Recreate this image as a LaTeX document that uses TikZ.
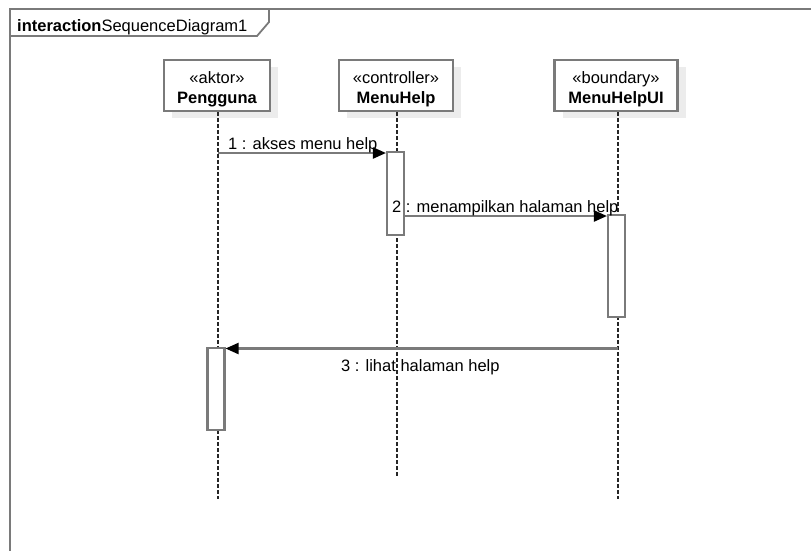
\documentclass[tikz,border=0pt]{standalone}
\usepackage{fontspec}
\setmainfont{Liberation Sans}
\usetikzlibrary{arrows.meta,shadows}
\definecolor{linegray}{RGB}{122,122,122}
\definecolor{shadowgray}{RGB}{236,236,236}
\tikzset{
  every node/.style={font=\fontsize{16.5}{20}\selectfont},
  head/.style={draw=linegray, line width=2.1pt, fill=white, align=center,
    inner sep=3pt, minimum height=51pt,
    general shadow={fill=shadowgray, shadow xshift=8pt, shadow yshift=-7pt}},
  lifeline/.style={draw=black!85, line width=1.2pt, dash pattern=on 3.5pt off 2.5pt},
  actbar/.style={draw=linegray, line width=2.1pt, fill=white, minimum width=17pt,
    inner sep=0pt},
  msg/.style={draw=linegray, line width=2.1pt,
    -{Triangle[length=13pt,width=11pt,fill=black,color=black]}},
  msglabel/.style={inner sep=0pt},
  framebox/.style={draw=linegray, line width=1.8pt},
}
\newcommand{\headtop}{\rule{0pt}{18.5pt}}
\begin{document}
\begin{tikzpicture}[x=1pt,y=-1pt]
  \useasboundingbox (0,0) rectangle (811,550);

  % interaction frame and its name tab
  \draw[framebox] (10,551) -- (10,9) -- (812,9);
  \draw[framebox] (10,36) -- (257,36) -- (269,22) -- (269,9);
  \node[msglabel, anchor=base west] (title) at (17,31.5)
    {\textbf{interaction}SequenceDiagram1};

  % lifeline heads
  \node[head, minimum width=106pt] (user) at (217,85.5)
    {\headtop«aktor»\\\textbf{Pengguna}};
  \node[head, minimum width=114pt] (ctrl) at (396,85.5)
    {\headtop«controller»\\\textbf{MenuHelp}};
  \node[head, minimum width=123pt] (ui) at (616,85.5)
    {\headtop«boundary»\\\textbf{MenuHelpUI}};

  % lifeline ends
  \coordinate (userEnd) at (218,499);
  \coordinate (ctrlEnd) at (397,478);
  \coordinate (uiEnd) at (618,499);
  \draw[lifeline] (user.south -| userEnd) -- (userEnd);
  \draw[lifeline] (ctrl.south -| ctrlEnd) -- (ctrlEnd);
  \draw[lifeline] (ui.south -| uiEnd) -- (uiEnd);

  % activations
  \node[actbar, minimum height=83pt] (actCtrl) at (395.5,193.5) {};
  \node[actbar, minimum height=102pt] (actUi) at (616.5,266) {};
  \node[actbar, minimum height=82pt] (actUser) at (216,389) {};

  % messages
  \coordinate (m1from) at (218,153);
  \draw[msg] (m1from) -- (m1from -| actCtrl.west);
  \node[msglabel, anchor=base west] (m1label) at (228,149) {1 : akses menu help};

  \coordinate (m2y) at (0,216);
  \draw[msg] (actCtrl.east |- m2y) -- (actUi.west |- m2y);
  \node[msglabel, anchor=base west] (m2label) at (392,212) {2 : menampilkan halaman help};

  \coordinate (m3from) at (618,348.5);
  \draw[msg] (m3from) -- (m3from -| actUser.east);
  \node[msglabel, anchor=base west] (m3label) at (341,371) {3 : lihat halaman help};
\end{tikzpicture}
\end{document}
